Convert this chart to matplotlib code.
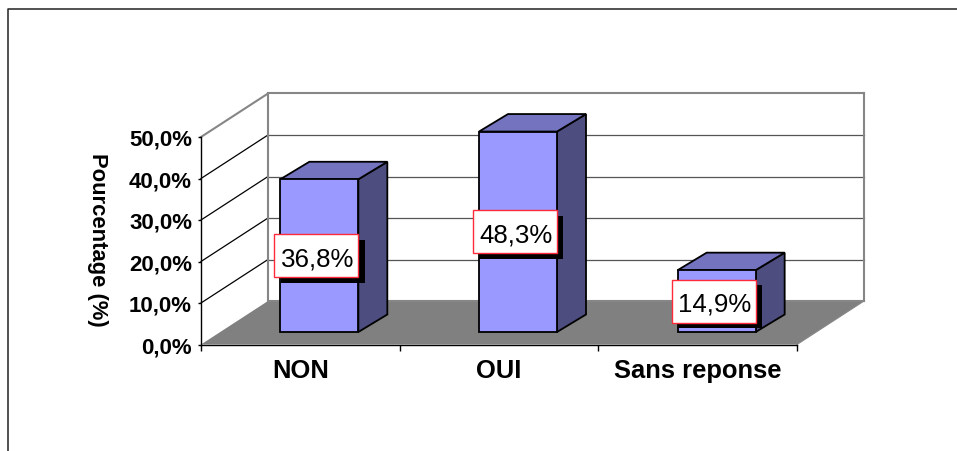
import matplotlib
matplotlib.use('Agg')
import matplotlib.pyplot as plt
from matplotlib.lines import Line2D
from matplotlib.patches import Polygon, Rectangle

categories = ['NON', 'OUI', 'Sans reponse']
values = [36.8, 48.3, 14.9]
labels = ['36,8%', '48,3%', '14,9%']
y_ticks = [0, 10, 20, 30, 40, 50]
y_tick_labels = ['0,0%', '10,0%', '20,0%', '30,0%', '40,0%', '50,0%']

plt.rcParams['font.family'] = ['Liberation Sans', 'DejaVu Sans']

W, H = 957, 452
fig = plt.figure(figsize=(W / 100, H / 100), dpi=100, facecolor='white')
ax = fig.add_axes([201 / W, (H - 345.5) / H, 596 / W, 207.5 / H], facecolor='none')
ax.set_xlim(0, 3)
ax.set_ylim(0, 50)

# size of one pixel in data units
px = 3 / 596
py = 50 / 207.5

# depth of the walls and of the bars, in pixels
wall_dx, wall_dy = 67 * px, 43.5 * py
bar_dx, bar_dy = 29 * px, 17.5 * py
bar_shift_x, bar_shift_y = 19 * px, 12.5 * py
bar_w = 78 * px


def back(x, y):
    return (x + wall_dx, y + wall_dy)


WALL = '#868686'
wall_lw = 1.5

# floor
ax.add_patch(Polygon([(0, 0), (3, 0), back(3, 0), back(0, 0)], closed=True,
                     fc='#808080', ec='none', zorder=1, clip_on=False))

# gridlines on the side and back walls
for t in y_ticks:
    if t != 0:
        ax.plot(*zip((0, t), back(0, t)), color=WALL if t == 50 else 'black',
                lw=wall_lw if t == 50 else 0.9, zorder=1.5, clip_on=False)
    ax.plot(*zip(back(0, t), back(3, t)), color=WALL if t in (0, 50) else '#555555',
            lw=wall_lw if t in (0, 50) else 0.9, zorder=1.5, clip_on=False)
for x in (0, 3):
    ax.plot(*zip(back(x, 0), back(x, 50)), color=WALL, lw=wall_lw, zorder=1.5, clip_on=False)
ax.plot(*zip((3, 0), back(3, 0)), color=WALL, lw=0.8, zorder=1.5, clip_on=False)

# bars
for i, v in enumerate(values):
    x0 = i + 0.5 - bar_w / 2 + bar_shift_x
    x1 = x0 + bar_w
    y0 = bar_shift_y
    y1 = y0 + v
    ax.add_patch(Polygon([(x1, y0), (x1 + bar_dx, y0 + bar_dy), (x1 + bar_dx, y1 + bar_dy), (x1, y1)],
                         fc='#4D4D80', ec='black', lw=1.3, zorder=3, clip_on=False))
    ax.add_patch(Polygon([(x0, y1), (x1, y1), (x1 + bar_dx, y1 + bar_dy), (x0 + bar_dx, y1 + bar_dy)],
                         fc='#7373BF', ec='black', lw=1.3, zorder=3, clip_on=False))
    ax.add_patch(Rectangle((x0, y0), bar_w, v, fc='#9999FF', ec='black', lw=1.3,
                           zorder=3.1, clip_on=False))

    # data label with its black shadow
    lx = x0 + bar_w / 2 - 3 * px
    ly = y0 + v / 2
    bw, bh = 84 * px, 43 * py
    ax.add_patch(Rectangle((lx - bw / 2 + 6.5 * px, ly - bh / 2 - 5.5 * py), bw, bh, fc='black',
                           ec='none', zorder=4, clip_on=False))
    ax.add_patch(Rectangle((lx - bw / 2, ly - bh / 2), bw, bh, fc='white', ec='#FF2A3A', lw=1.0,
                           zorder=4.1, clip_on=False))
    ax.text(lx + 1 * px, ly, labels[i], ha='center', va='center_baseline', fontsize=18.6, color='black',
            zorder=4.2)

# axes
for s in ('top', 'right'):
    ax.spines[s].set_visible(False)
for s in ('left', 'bottom'):
    ax.spines[s].set_linewidth(1.0)
    ax.spines[s].set_zorder(2)
ax.set_yticks(y_ticks)
ax.set_yticklabels(y_tick_labels, fontweight='bold', fontsize=16)
ax.tick_params(axis='y', length=2.5, width=1.0, pad=4)
ax.set_xticks([0, 1, 2, 3])
ax.set_xticklabels([])
ax.tick_params(axis='x', length=4, width=1.0)
for i, c in enumerate(categories):
    ax.text(i + 0.5, -25.5 * py, c, ha='center', va='center', fontweight='bold', fontsize=18.4,
            clip_on=False)

ax.set_ylabel('Pourcentage (%)', rotation=270, fontweight='bold', fontsize=15.8,
              ha='center', va='center')
ax.yaxis.set_label_coords((97 - 201) / 596, (345.5 - 240) / 207.5)

# outer frame, cut off at the right and bottom
fig.add_artist(Line2D([8 / W, 8 / W, 1], [0, (H - 9.5) / H, (H - 9.5) / H], color='#222222', lw=1.1))

fig.savefig('out.png', dpi=100)
